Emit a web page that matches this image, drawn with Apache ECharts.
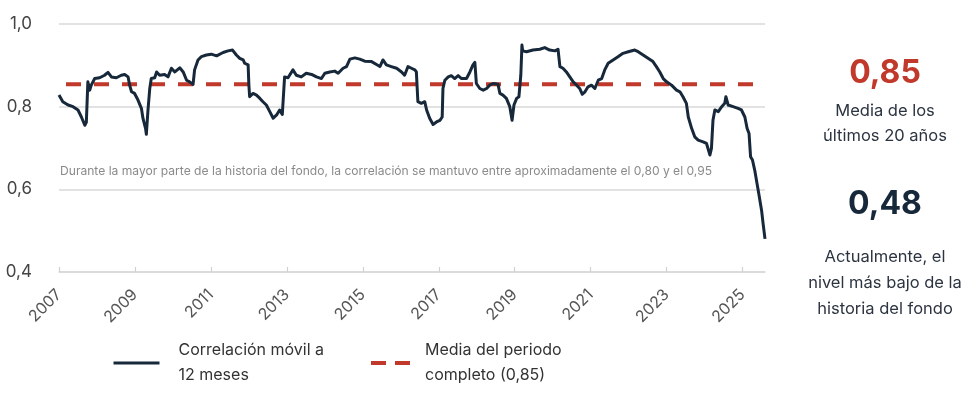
<!DOCTYPE html>
<html>
<head>
<meta charset="utf-8">
<script src="https://cdn.jsdelivr.net/npm/echarts@6/dist/echarts.min.js"></script>
<style>
  html, body { margin: 0; padding: 0; background: #fff; }
  #chart { width: 979px; height: 404px; }
</style>
</head>
<body>
<div id="chart"></div>
<script>
// fecha (año decimal) de cada punto leído
var years = [
  2007.00, 2007.10, 2007.24, 2007.37, 2007.50, 2007.59, 2007.68, 2007.72, 2007.76, 2007.81,
  2007.85, 2007.94, 2008.07, 2008.20, 2008.29, 2008.38, 2008.51, 2008.64, 2008.73, 2008.82,
  2008.86, 2008.91, 2008.99, 2009.08, 2009.17, 2009.21, 2009.28, 2009.30, 2009.34, 2009.39,
  2009.43, 2009.52, 2009.57, 2009.65, 2009.78, 2009.87, 2009.96, 2010.05, 2010.18, 2010.27,
  2010.36, 2010.44, 2010.53, 2010.57, 2010.66, 2010.75, 2010.88, 2011.01, 2011.15, 2011.32,
  2011.45, 2011.57, 2011.67, 2011.76, 2011.85, 2011.89, 2011.98, 2012.00, 2012.02, 2012.11,
  2012.20, 2012.29, 2012.37, 2012.46, 2012.55, 2012.64, 2012.73, 2012.81, 2012.88, 2012.92,
  2012.94, 2013.03, 2013.16, 2013.25, 2013.38, 2013.51, 2013.65, 2013.78, 2013.91, 2014.00,
  2014.13, 2014.26, 2014.35, 2014.48, 2014.57, 2014.66, 2014.79, 2014.92, 2015.05, 2015.23,
  2015.36, 2015.45, 2015.53, 2015.62, 2015.75, 2015.89, 2016.02, 2016.10, 2016.19, 2016.28,
  2016.37, 2016.41, 2016.45, 2016.54, 2016.63, 2016.68, 2016.76, 2016.85, 2016.94, 2017.03,
  2017.09, 2017.11, 2017.16, 2017.25, 2017.33, 2017.42, 2017.51, 2017.60, 2017.73, 2017.82,
  2017.90, 2017.95, 2017.99, 2018.08, 2018.17, 2018.26, 2018.34, 2018.43, 2018.56, 2018.61,
  2018.69, 2018.78, 2018.87, 2018.93, 2018.98, 2019.05, 2019.11, 2019.16, 2019.19, 2019.21,
  2019.31, 2019.48, 2019.66, 2019.79, 2019.92, 2020.06, 2020.14, 2020.19, 2020.27, 2020.36,
  2020.45, 2020.54, 2020.63, 2020.71, 2020.78, 2020.85, 2020.93, 2021.02, 2021.11, 2021.20,
  2021.29, 2021.37, 2021.46, 2021.59, 2021.72, 2021.85, 2021.99, 2022.16, 2022.25, 2022.38,
  2022.51, 2022.64, 2022.73, 2022.82, 2022.91, 2023.00, 2023.13, 2023.26, 2023.35, 2023.43,
  2023.52, 2023.57, 2023.66, 2023.74, 2023.83, 2023.96, 2024.05, 2024.09, 2024.14, 2024.18,
  2024.22, 2024.27, 2024.36, 2024.45, 2024.53, 2024.56, 2024.62, 2024.75, 2024.88, 2024.97,
  2025.06, 2025.12, 2025.17, 2025.21, 2025.26, 2025.32, 2025.38, 2025.44, 2025.50, 2025.54,
  2025.59
];

// correlación móvil a 12 meses
var correlation = [
  0.828, 0.812, 0.804, 0.800, 0.792, 0.775, 0.755, 0.762, 0.860, 0.840,
  0.852, 0.868, 0.870, 0.876, 0.883, 0.872, 0.870, 0.876, 0.878, 0.872,
  0.852, 0.836, 0.832, 0.816, 0.796, 0.772, 0.747, 0.733, 0.788, 0.844,
  0.868, 0.870, 0.884, 0.876, 0.878, 0.872, 0.893, 0.884, 0.894, 0.884,
  0.864, 0.860, 0.854, 0.889, 0.913, 0.921, 0.925, 0.927, 0.923, 0.931,
  0.935, 0.937, 0.925, 0.917, 0.913, 0.905, 0.901, 0.852, 0.824, 0.832,
  0.828, 0.820, 0.812, 0.804, 0.788, 0.772, 0.780, 0.792, 0.781, 0.780,
  0.872, 0.870, 0.889, 0.876, 0.872, 0.881, 0.878, 0.872, 0.868, 0.881,
  0.884, 0.886, 0.881, 0.893, 0.897, 0.915, 0.918, 0.915, 0.910, 0.909,
  0.902, 0.897, 0.913, 0.901, 0.897, 0.893, 0.884, 0.876, 0.897, 0.893,
  0.889, 0.884, 0.812, 0.808, 0.812, 0.792, 0.772, 0.757, 0.763, 0.767,
  0.775, 0.844, 0.864, 0.872, 0.875, 0.868, 0.875, 0.868, 0.868, 0.884,
  0.901, 0.907, 0.856, 0.844, 0.840, 0.844, 0.852, 0.856, 0.854, 0.832,
  0.828, 0.820, 0.800, 0.767, 0.804, 0.820, 0.824, 0.876, 0.949, 0.935,
  0.933, 0.937, 0.939, 0.943, 0.937, 0.935, 0.939, 0.897, 0.893, 0.884,
  0.872, 0.860, 0.852, 0.844, 0.830, 0.836, 0.848, 0.852, 0.844, 0.864,
  0.868, 0.889, 0.905, 0.913, 0.921, 0.929, 0.933, 0.937, 0.933, 0.925,
  0.917, 0.909, 0.897, 0.884, 0.868, 0.860, 0.852, 0.840, 0.836, 0.824,
  0.808, 0.775, 0.747, 0.727, 0.719, 0.715, 0.711, 0.715, 0.683, 0.699,
  0.767, 0.792, 0.788, 0.800, 0.808, 0.824, 0.804, 0.800, 0.796, 0.792,
  0.775, 0.747, 0.735, 0.679, 0.671, 0.646, 0.614, 0.582, 0.549, 0.517,
  0.480
];

var meanValue = 0.854;
var yearTicks = [2007, 2009, 2011, 2013, 2015, 2017, 2019, 2021, 2023, 2025];

var names = {
  corr: 'Correlación móvil a\n12 meses',
  mean: 'Media del periodo\ncompleto (0,85)'
};

var navy = '#16283a';
var red = '#c0392b';
var font = 'Inter';

var chart = echarts.init(document.getElementById('chart'));

var corrData = years.map(function (y, i) { return [y, correlation[i]]; });
var meanData = [[years[0], meanValue], [years[years.length - 1], meanValue]];

function legendText(gap) {
  return {
    fontFamily: font,
    fontSize: 16,
    lineHeight: 25,
    color: '#333',
    padding: [0, 0, 0, gap]
  };
}

chart.setOption({
  animation: false,
  textStyle: { fontFamily: font },
  grid: { left: 59, right: 214, top: 24, bottom: 132 },
  xAxis: {
    type: 'value',
    min: 2007,
    max: 2025.59,
    interval: 2,
    axisLine: { lineStyle: { color: '#d9d9d9', width: 1.5 } },
    axisTick: {
      inside: true,
      length: 5,
      customValues: yearTicks,
      lineStyle: { color: '#d0d0d0', width: 1.2 }
    },
    axisLabel: {
      customValues: yearTicks,
      rotate: 45,
      margin: 20,
      fontSize: 16,
      fontFamily: font,
      color: '#555',
      formatter: function (v) { return String(v); }
    },
    splitLine: { show: false }
  },
  yAxis: {
    type: 'value',
    min: 0.4,
    max: 1.0,
    interval: 0.2,
    axisLine: { show: false },
    axisTick: { show: false },
    axisLabel: {
      margin: 27,
      fontSize: 17,
      fontFamily: font,
      color: '#444',
      formatter: function (v) { return v.toFixed(1).replace('.', ','); }
    },
    splitLine: { lineStyle: { color: '#d9d9d9', width: 1.5 } }
  },
  legend: [
    {
      data: [names.corr],
      left: 112,
      top: 338,
      padding: 0,
      itemWidth: 46,
      itemHeight: 14,
      itemStyle: { opacity: 0 },
      lineStyle: { width: 3 },
      textStyle: legendText(14)
    },
    {
      data: [names.mean],
      left: 371,
      top: 338,
      padding: 0,
      icon: 'path://M0,0h15v4h-15z M24,0h15v4h-15z',
      itemWidth: 39,
      itemHeight: 4,
      itemStyle: { color: red },
      textStyle: legendText(10)
    }
  ],
  series: [
    {
      name: names.corr,
      type: 'line',
      data: corrData,
      symbol: 'none',
      z: 3,
      lineStyle: { color: navy, width: 3, join: 'round' },
      itemStyle: { color: navy }
    },
    {
      name: names.mean,
      type: 'line',
      data: meanData,
      symbol: 'none',
      z: 2,
      lineStyle: { color: red, width: 4, type: [15, 13], dashOffset: 21 },
      itemStyle: { color: red }
    }
  ],
  graphic: [
    {
      type: 'text',
      left: 60,
      top: 165,
      style: {
        text: 'Durante la mayor parte de la historia del fondo, la correlación se mantuvo entre aproximadamente el 0,80 y el 0,95',
        fontFamily: font,
        fontSize: 12.1,
        fill: '#8a8a8a'
      }
    },
    {
      type: 'text',
      x: 885,
      y: 73,
      style: {
        text: '0,85',
        fontFamily: font,
        fontSize: 32,
        fontWeight: 'bold',
        fill: red,
        align: 'center',
        verticalAlign: 'middle'
      }
    },
    {
      type: 'text',
      x: 885,
      y: 124,
      style: {
        text: 'Media de los\núltimos 20 años',
        fontFamily: font,
        fontSize: 16.5,
        lineHeight: 25,
        fill: '#2b3440',
        align: 'center',
        verticalAlign: 'middle'
      }
    },
    {
      type: 'text',
      x: 885,
      y: 204,
      style: {
        text: '0,48',
        fontFamily: font,
        fontSize: 32,
        fontWeight: 'bold',
        fill: navy,
        align: 'center',
        verticalAlign: 'middle'
      }
    },
    {
      type: 'text',
      x: 885,
      y: 283,
      style: {
        text: 'Actualmente, el\nnivel más bajo de la\nhistoria del fondo',
        fontFamily: font,
        fontSize: 16.5,
        lineHeight: 26,
        fill: '#2b3440',
        align: 'center',
        verticalAlign: 'middle'
      }
    }
  ]
});
</script>
</body>
</html>
